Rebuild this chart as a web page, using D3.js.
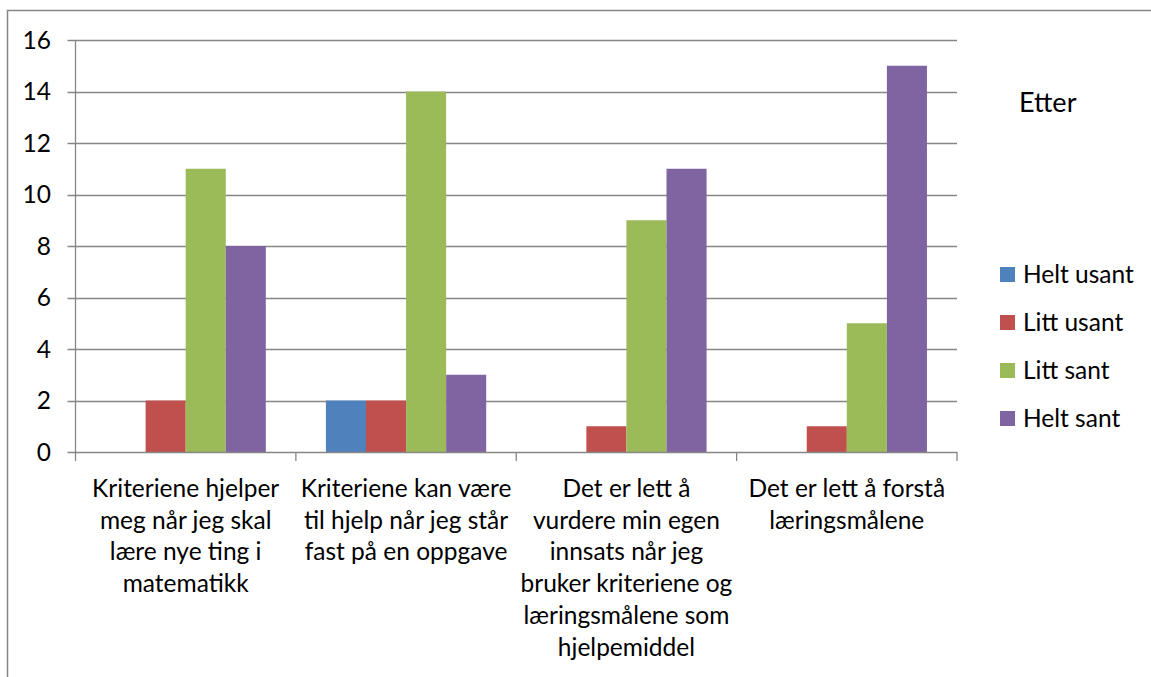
<!DOCTYPE html>
<html>
<head>
<meta charset="utf-8">
<script src="https://cdn.jsdelivr.net/npm/d3@7"></script>
<style>
  html, body { margin: 0; padding: 0; background: #fff; }
  svg { display: block; }
  text { font-family: Lato, "Open Sans", sans-serif; fill: #000; }
</style>
</head>
<body>
<svg id="chart" width="1151" height="677"></svg>
<script>
// Survey answers ("Etter") per statement
const categories = [
  ["Kriteriene hjelper", "meg når jeg skal", "lære nye ting i", "matematikk"],
  ["Kriteriene kan være", "til hjelp når jeg står", "fast på en oppgave"],
  ["Det er lett å", "vurdere min egen", "innsats når jeg", "bruker kriteriene og", "læringsmålene som", "hjelpemiddel"],
  ["Det er lett å forstå", "læringsmålene"]
];
const seriesNames = ["Helt usant", "Litt usant", "Litt sant", "Helt sant"];
const helUsant  = [0, 2, 0, 0];
const littUsant = [2, 2, 1, 1];
const littSant  = [11, 14, 9, 5];
const heltSant  = [8, 3, 11, 15];
const seriesColors = ["#4F81BD", "#C0504D", "#9BBB59", "#8064A2"];
const yTicks = [0, 2, 4, 6, 8, 10, 12, 14, 16];
const legendTitle = "Etter";

const seriesValues = [helUsant, littUsant, littSant, heltSant];
const gridColor = "#868686";
const fontSize = 24.5;

const svg = d3.select("#chart");

// outer chart frame
svg.append("rect")
  .attr("x", 7.5).attr("y", 10.5)
  .attr("width", 1200).attr("height", 700)
  .attr("fill", "none").attr("stroke", gridColor).attr("stroke-width", 1.5);

const plotLeft = 75.5, plotRight = 957, plotTop = 40, plotBottom = 452;

const x = d3.scaleBand()
  .domain(d3.range(categories.length))
  .range([plotLeft, plotRight])
  .paddingInner(0).paddingOuter(0);

const xs = d3.scaleBand()
  .domain(d3.range(seriesNames.length))
  .range([0, x.bandwidth()])
  .paddingInner(0).paddingOuter(0.75);

const y = d3.scaleLinear().domain([0, 16]).range([plotBottom, plotTop]);

// horizontal gridlines with left tick stubs
svg.append("g").selectAll("line")
  .data(yTicks.filter(d => d > 0))
  .join("line")
  .attr("x1", plotLeft - 8).attr("x2", plotRight)
  .attr("y1", d => Math.round(y(d)) + 0.5).attr("y2", d => Math.round(y(d)) + 0.5)
  .attr("stroke", gridColor).attr("stroke-width", 1.3);

// bars
const barData = [];
categories.forEach((c, i) => {
  seriesValues.forEach((vals, s) => {
    barData.push({ cat: i, s, v: vals[i] });
  });
});
svg.append("g").selectAll("rect")
  .data(barData.filter(d => d.v > 0))
  .join("rect")
  .attr("x", d => x(d.cat) + xs(d.s))
  .attr("width", xs.bandwidth())
  .attr("y", d => y(d.v))
  .attr("height", d => y(0) - y(d.v))
  .attr("fill", d => seriesColors[d.s]);

// y axis line
svg.append("line")
  .attr("x1", plotLeft).attr("x2", plotLeft)
  .attr("y1", plotTop).attr("y2", plotBottom)
  .attr("stroke", gridColor).attr("stroke-width", 1.3);

// baseline with category boundary ticks
svg.append("line")
  .attr("x1", plotLeft - 8).attr("x2", plotRight)
  .attr("y1", Math.round(y(0)) + 0.5).attr("y2", Math.round(y(0)) + 0.5)
  .attr("stroke", gridColor).attr("stroke-width", 1.3);
const boundaries = d3.range(categories.length + 1).map(i => i < categories.length ? x(i) : plotRight);
svg.append("g").selectAll("line")
  .data(boundaries)
  .join("line")
  .attr("x1", d => d).attr("x2", d => d)
  .attr("y1", y(0)).attr("y2", y(0) + 9)
  .attr("stroke", gridColor).attr("stroke-width", 1.3);

// y tick labels
svg.append("g").selectAll("text")
  .data(yTicks)
  .join("text")
  .attr("x", 51)
  .attr("y", d => y(d))
  .attr("dy", "0.35em")
  .attr("text-anchor", "end")
  .style("font-size", fontSize + "px")
  .text(d => d);

// category labels
const catG = svg.append("g").selectAll("text")
  .data(categories)
  .join("text")
  .attr("text-anchor", "middle")
  .style("font-size", fontSize + "px");
catG.selectAll("tspan")
  .data((d, i) => d.map(line => ({ line, i })))
  .join("tspan")
  .attr("x", d => x(d.i) + x.bandwidth() / 2)
  .attr("y", (d, j) => 497 + j * 31.7)
  .text(d => d.line);

// legend
svg.append("text")
  .attr("x", 1019).attr("y", 112)
  .style("font-size", "27px")
  .text(legendTitle);

const leg = svg.append("g").selectAll("g")
  .data(seriesNames)
  .join("g")
  .attr("transform", (d, i) => `translate(1000, ${267 + i * 48})`);
leg.append("rect")
  .attr("width", 15).attr("height", 15)
  .attr("fill", (d, i) => seriesColors[i]);
leg.append("text")
  .attr("x", 23).attr("y", 7.5).attr("dy", "0.35em")
  .style("font-size", fontSize + "px")
  .text(d => d);
</script>
</body>
</html>
